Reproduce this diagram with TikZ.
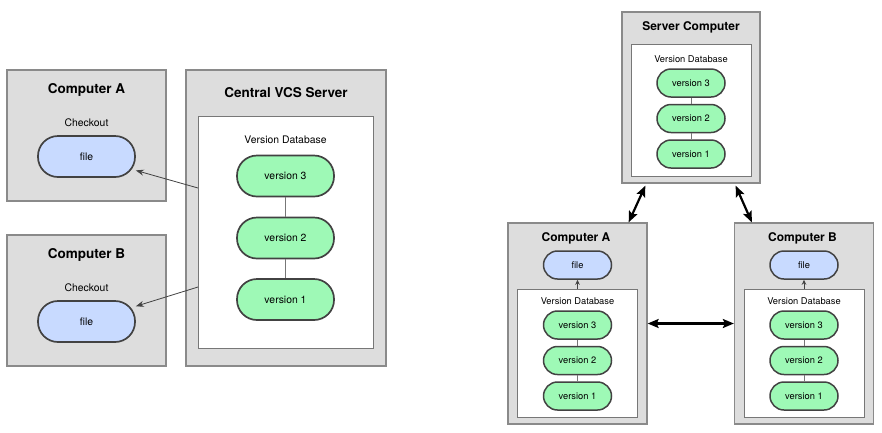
\documentclass[tikz,border=0pt]{standalone}
\usepackage{fontspec}
\setmainfont{TeX Gyre Heros}
\usepackage{tikz}
\usetikzlibrary{arrows.meta}
\definecolor{boxgray}{HTML}{DDDDDD}
\definecolor{boxline}{HTML}{8A8A8A}
\definecolor{dbline}{HTML}{777777}
\definecolor{pillline}{HTML}{424242}
\definecolor{versgreen}{HTML}{9EF9B6}
\definecolor{fileblue}{HTML}{C8DAFF}

\begin{document}
\begin{tikzpicture}[x=1pt,y=-1pt,
    machine/.style={draw=boxline, fill=boxgray, line width=1.3pt, inner sep=0pt},
    dbbox/.style={draw=dbline, fill=white, line width=0.9pt, inner sep=0pt},
    bigpill/.style={draw=pillline, line width=1.7pt, rounded corners=20pt,
        minimum width=97pt, minimum height=41pt, inner sep=0pt,
        font=\fontsize{10.4}{12}\selectfont},
    smallpill/.style={draw=pillline, line width=1.5pt, rounded corners=14pt,
        minimum width=68pt, minimum height=28pt, inner sep=0pt,
        font=\fontsize{9.3}{11}\selectfont},
    bigtitle/.style={font=\fontsize{13.5}{16}\selectfont\bfseries, inner sep=0pt},
    smalltitle/.style={font=\fontsize{12}{14}\selectfont\bfseries, inner sep=0pt},
    biglabel/.style={font=\fontsize{10.4}{12}\selectfont, inner sep=0pt},
    smalllabel/.style={font=\fontsize{9.3}{11}\selectfont, inner sep=0pt},
    link/.style={draw=dbline, line width=0.8pt},
    fetch/.style={draw=pillline, line width=0.8pt, -{Stealth[length=8pt,width=6pt]}},
    sync/.style={draw=black, line width=2.2pt, {Stealth[length=11pt,width=9pt,inset=2pt]}-{Stealth[length=11pt,width=9pt,inset=2pt]}},
    checkout/.style={draw=pillline, line width=1pt, -{Stealth[length=5pt,width=4.5pt]}}]

    \useasboundingbox (0,0) rectangle (882,432);

    %centralized: computers
    \foreach \c/\y in {A/135.5,B/300.5}{
        \node[machine, minimum width=159pt, minimum height=131pt] (comp\c) at (86.5,\y) {};
        \node[bigtitle] (ttl\c) at (86.5,\y-46) {Computer \c};
        \node[biglabel] (chk\c) at (86.5,\y-12.5) {Checkout};
        \node[bigpill, fill=fileblue] (file\c) at (86.5,\y+21) {file};
    }

    %centralized: server
    \node[machine, minimum width=200pt, minimum height=296pt] (server) at (286,218) {};
    \node[bigtitle] (ttlserver) at (286,93) {Central VCS Server};
    \node[dbbox, minimum width=175pt, minimum height=232pt] (db) at (285.5,232) {};
    \node[biglabel] (dbname) at (285.5,140) {Version Database};
    \foreach \v/\y in {3/176,2/238,1/299.5}
        \node[bigpill, fill=versgreen] (v\v) at (285.5,\y) {version \v};
    \draw[link] (v3) -- (v2) -- (v1);

    \coordinate (getA) at (198,188);
    \coordinate (getB) at (198,287);
    \draw[fetch] (getA) -- (fileA);
    \draw[fetch] (getB) -- (fileB);

    %distributed: machines
    \node[machine, minimum width=138pt, minimum height=171pt] (srv) at (691,97.5) {};
    \node[smalltitle] (ttlsrv) at (691,27) {Server Computer};
    \node[dbbox, minimum width=120pt, minimum height=132pt] (srvdb) at (691,110) {};
    \foreach \c/\x in {A/577.5,B/804}{
        \node[machine, minimum width=139pt, minimum height=201pt] (pc\c) at (\x,323.5) {};
        \node[smalltitle] (ttlpc\c) at (\x-1.5,238) {Computer \c};
        \node[smallpill, fill=fileblue] (work\c) at (\x,265) {file};
        \node[dbbox, minimum width=120pt, minimum height=128pt] (db\c) at (\x,353) {};
        \draw[checkout] (db\c) -- (work\c);
    }

    %distributed: version databases
    \foreach \m/\x/\y in {srv/691/59,pcA/577.5/301,pcB/804/301}{
        \node[smalllabel] (\m name) at (\x,\y) {Version Database};
        \foreach \v/\d in {3/24,2/59.5,1/95}
            \node[smallpill, fill=versgreen] (\m v\v) at (\x,\y+\d) {version \v};
        \draw[link] (\m v3) -- (\m v2) -- (\m v1);
    }

    %sync arrows
    \draw[sync] ([xshift=24pt,yshift=-2pt]srv.south west) -- ([xshift=-19pt]pcA.north east);
    \draw[sync] ([xshift=-25pt,yshift=-2pt]srv.south east) -- ([xshift=18pt]pcB.north west);
    \draw[sync] (pcA.east) -- (pcB.west);

\end{tikzpicture}
\end{document}
